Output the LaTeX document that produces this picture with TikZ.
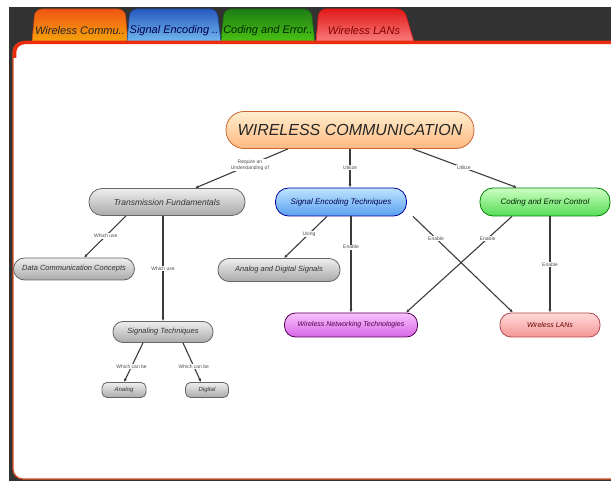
\documentclass[tikz,border=0pt]{standalone}
\usepackage{fontspec}
\setmainfont{Liberation Sans}
\usepackage{xcolor}
\definecolor{color1}{RGB}{50, 50, 50}
\definecolor{color2}{RGB}{235, 45, 15}
\definecolor{color3}{RGB}{60, 60, 60}
% tabs
\definecolor{tab1top}{RGB}{240, 85, 20}
\definecolor{tab1bot}{RGB}{245, 165, 10}
\definecolor{tab2top}{RGB}{40, 90, 190}
\definecolor{tab2bot}{RGB}{115, 185, 240}
\definecolor{tab3top}{RGB}{30, 125, 20}
\definecolor{tab3bot}{RGB}{75, 195, 20}
\definecolor{tab4top}{RGB}{225, 25, 25}
\definecolor{tab4bot}{RGB}{250, 125, 125}
% concepts
\definecolor{wctop}{RGB}{255, 238, 205}
\definecolor{wcbot}{RGB}{255, 185, 130}
\definecolor{graytop}{RGB}{238, 238, 238}
\definecolor{graybot}{RGB}{170, 170, 170}
\definecolor{bluetop}{RGB}{190, 228, 255}
\definecolor{bluebot}{RGB}{90, 160, 240}
\definecolor{greentop}{RGB}{205, 255, 195}
\definecolor{greenbot}{RGB}{85, 220, 85}
\definecolor{violettop}{RGB}{248, 195, 252}
\definecolor{violetbot}{RGB}{215, 100, 230}
\definecolor{pinktop}{RGB}{255, 218, 218}
\definecolor{pinkbot}{RGB}{245, 150, 150}
\usepackage{tikz}
\usetikzlibrary{arrows.meta}

\tikzset{
  tab/.style={line width=0.6pt},
  tabtext/.style={font=\fontsize{11}{12}\selectfont\itshape, inner sep=0pt},
  box/.style={draw, line width=0.8pt, inner sep=1pt, font=\itshape,
    rounded corners=11pt},
  graybox/.style={box, draw=black!60, top color=graytop,
    bottom color=graybot, text=black!80},
  link/.style={draw=color3, line width=1.1pt,
    -{Latex[length=3.5pt,width=3pt]}},
  lbl/.style={fill=white, inner sep=0.8pt, align=center, text=black!70,
    font=\fontsize{5}{5.5}\selectfont}
}

\begin{document}
\begin{tikzpicture}[x=1pt,y=-1pt]
\useasboundingbox (0,0) rectangle (611,481);
\fill [color1] (9,7) rectangle (611,481);

% tabs
\draw [tab, draw=tab1top!80!black, top color=tab1top, bottom color=tab1bot]
  (32,42) [rounded corners=7pt] -- (35,9) -- (125,9) [sharp corners] -- (128,42) -- cycle;
\draw [tab, draw=tab2top!80!black, top color=tab2top, bottom color=tab2bot]
  (127,42) [rounded corners=7pt] -- (130,9) -- (217,9) [sharp corners] -- (221,42) -- cycle;
\draw [tab, draw=tab3top!80!black, top color=tab3top, bottom color=tab3bot]
  (221,42) [rounded corners=7pt] -- (224,9) -- (311,9) [sharp corners] -- (315,42) -- cycle;
\draw [tab, draw=tab4top, top color=tab4top, bottom color=tab4bot]
  (316,42) [rounded corners=7pt] -- (319,9) -- (404,9) [sharp corners] -- (414,42) -- cycle;
\node [tabtext, text=black!85] (tab1) at (80,31) {Wireless Commu..};
\node [tabtext, text=blue!30!black] (tab2) at (174,31) {Signal Encoding ..};
\node [tabtext, text=green!15!black] (tab3) at (268,31) {Coding and Error..};
\node [tabtext, text=red!50!black] (tab4) at (364,31) {Wireless LANs};

% panel
\draw [fill=white, draw=color2!60!brown, line width=1.2pt, rounded corners=10pt]
  (13,42) rectangle (630,479);
\draw [color2, line width=3.5pt]
  (14.5,58) [rounded corners=10pt] -- (14.5,42.5) -- (630,42.5);

% concepts
\node [box, draw=brown!80!red, top color=wctop, bottom color=wcbot,
  text=black!85, rounded corners=18pt, minimum width=248pt,
  minimum height=37pt, font=\fontsize{16}{18}\selectfont\itshape]
  (wc) at (350,130) {WIRELESS COMMUNICATION};
\node [graybox, minimum width=156pt, minimum height=27pt, rounded corners=13pt,
  font=\fontsize{8.5}{10}\selectfont\itshape]
  (tf) at (167,202) {Transmission Fundamentals};
\node [box, draw=blue!60!black, top color=bluetop, bottom color=bluebot,
  text=blue!30!black, minimum width=131pt, minimum height=28pt,
  rounded corners=13pt, font=\fontsize{8}{10}\selectfont\itshape]
  (set) at (341,202) {Signal Encoding Techniques};
\node [box, draw=green!50!black, top color=greentop, bottom color=greenbot,
  text=green!15!black, minimum width=130pt, minimum height=28pt,
  rounded corners=13pt, font=\fontsize{8}{10}\selectfont\itshape]
  (cec) at (545,202) {Coding and Error Control};
\node [graybox, minimum width=121pt, minimum height=22pt,
  font=\fontsize{7.5}{9}\selectfont\itshape]
  (dcc) at (74,269) {Data Communication Concepts};
\node [graybox, minimum width=122pt, minimum height=23pt,
  font=\fontsize{7.5}{9}\selectfont\itshape]
  (ads) at (279,270) {Analog and Digital Signals};
\node [graybox, minimum width=100pt, minimum height=21pt, rounded corners=10pt,
  font=\fontsize{7.5}{9}\selectfont\itshape]
  (st) at (163,332) {Signaling Techniques};
\node [box, draw=violet!70!black, top color=violettop, bottom color=violetbot,
  text=violet!60!black, minimum width=133pt, minimum height=24pt,
  font=\fontsize{7}{9}\selectfont\itshape]
  (wnt) at (351,325) {Wireless Networking Technologies};
\node [box, draw=red!40!gray, top color=pinktop, bottom color=pinkbot,
  text=red!40!black, minimum width=100pt, minimum height=24pt,
  font=\fontsize{7}{9}\selectfont\itshape]
  (wlan) at (550,325) {Wireless LANs};
\node [graybox, minimum width=44pt, minimum height=15pt, rounded corners=5pt,
  font=\fontsize{6}{7}\selectfont\itshape]
  (ana) at (124,390) {Analog};
\node [graybox, minimum width=43pt, minimum height=15pt, rounded corners=5pt,
  font=\fontsize{6}{7}\selectfont\itshape]
  (dig) at (207,390) {Digital};

% links
\draw [link] ([xshift=-62pt]wc.south) -- node [lbl, pos=0.41]
  {Require an\\Understanding of} ([xshift=28pt]tf.north);
\draw [link] (wc.south) -- node [lbl, pos=0.49] {Utilize} (wc.south |- set.north);
\draw [link] ([xshift=63pt]wc.south) -- node [lbl, pos=0.49] {Utilize}
  ([xshift=-28pt]cec.north);
\draw [link] ([xshift=-41pt]tf.south) -- node [lbl, pos=0.48] {Which use}
  ([xshift=10pt]dcc.north);
\draw [link] (st.north |- tf.south) -- node [lbl, pos=0.5] {Which use} (st.north);
\draw [link] ([xshift=-14pt]set.south) -- node [lbl, pos=0.42] {Using}
  ([xshift=5pt]ads.north);
\draw [link] (wnt.north |- set.south) -- node [lbl, pos=0.32] {Enable} (wnt.north);
\draw [link] ([xshift=72pt]set.south) -- node [lbl, pos=0.23] {Enable}
  ([xshift=-37pt]wlan.north);
\draw [link] ([xshift=-33pt]cec.south) -- node [lbl, pos=0.23] {Enable}
  ([xshift=55pt]wnt.north);
\draw [link] (wlan.north |- cec.south) -- node [lbl, pos=0.5] {Enable} (wlan.north);
\draw [link] ([xshift=-20pt]st.south) -- node [lbl, pos=0.6] {Which can be}
  (ana.north);
\draw [link] ([xshift=20pt]st.south) -- node [lbl, pos=0.6] {Which can be}
  ([xshift=-6pt]dig.north);
\end{tikzpicture}
\end{document}
